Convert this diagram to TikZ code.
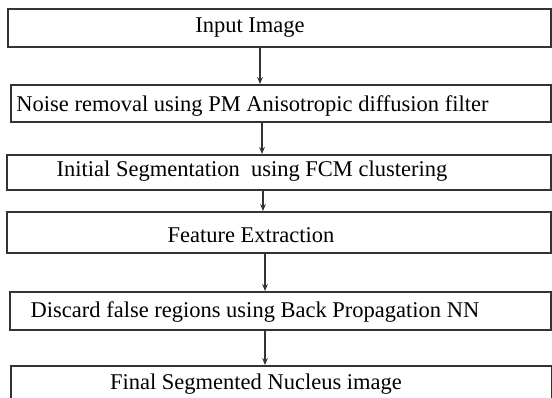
\documentclass[tikz,border=0pt]{standalone}
\usepackage{fontspec}
\setmainfont{Liberation Serif}
\usetikzlibrary{arrows.meta,fit}

\begin{document}
\begin{tikzpicture}[
  x=0.025cm, y=-0.025cm,
  box/.style={draw=black!80, line width=1.3pt, inner sep=0pt},
  txt/.style={anchor=base, inner sep=0pt, font=\fontsize{16}{19}\selectfont},
  arr/.style={-{Stealth[length=5pt,width=4pt]}, draw=black!80, line width=0.8pt}
]
  \useasboundingbox (0,0) rectangle (552,398);
  \clip (0,0) rectangle (552,398);
  % boxes
  \node[box, fit={(8,9) (551,47)}]     (input)   {};
  \node[box, fit={(11,85) (551,122)}]  (noise)   {};
  \node[box, fit={(7,155) (551,190)}]  (fcm)     {};
  \node[box, fit={(7,212) (551,253)}]  (feature) {};
  \node[box, fit={(10,292) (551,330)}] (discard) {};
  \node[box, fit={(11,366) (552,404)}] (final)   {};
  % texts
  \node[txt] (inputT)   at (250,33)    {Input Image};
  \node[txt] (noiseT)   at (252.5,112) {Noise removal using PM Anisotropic diffusion filter};
  \node[txt] (fcmT)     at (252,177)   {Initial Segmentation\ \ using FCM clustering};
  \node[txt] (featureT) at (251,243)   {Feature Extraction};
  \node[txt] (discardT) at (255,318)   {Discard false regions using Back Propagation NN};
  \node[txt] (finalT)   at (256,390)   {Final Segmented Nucleus image};
  % arrows
  \draw[arr] (input.south -| 260,0)   -- (noise.north -| 260,0);
  \draw[arr] (noise.south -| 262,0)   -- (fcm.north -| 262,0);
  \draw[arr] (fcm.south -| 263,0)     -- (feature.north -| 263,0);
  \draw[arr] (feature.south -| 265,0) -- (discard.north -| 265,0);
  \draw[arr] (discard.south -| 265,0) -- (final.north -| 265,0);
\end{tikzpicture}
\end{document}
